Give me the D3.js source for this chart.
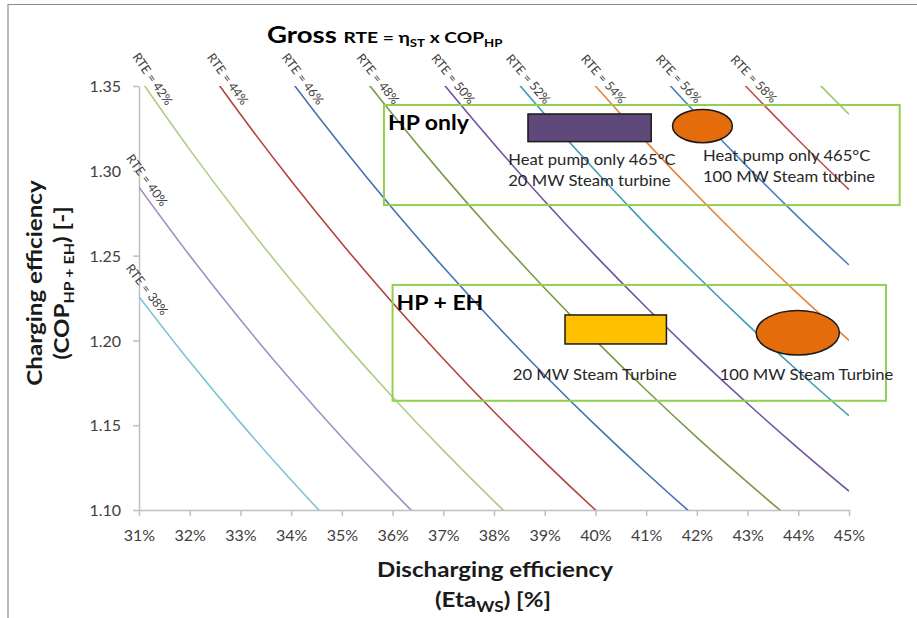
<!DOCTYPE html>
<html>
<head>
<meta charset="utf-8">
<script src="https://cdn.jsdelivr.net/npm/d3@7"></script>
<style>
  body { margin: 0; background: #fff; }
  svg { display: block; font-family: Lato, "Open Sans", sans-serif; }
</style>
</head>
<body>
<div id="chart"></div>
<script>
// discharging efficiency grid (x) and charging efficiency ticks (y)
const etaValues = [0.31, 0.32, 0.33, 0.34, 0.35, 0.36, 0.37, 0.38, 0.39, 0.40, 0.41, 0.42, 0.43, 0.44, 0.45];
const copTicks = [1.10, 1.15, 1.20, 1.25, 1.30, 1.35];

// iso round-trip-efficiency lines, RTE = eta x COP
const rteLevels = [0.38, 0.40, 0.42, 0.44, 0.46, 0.48, 0.50, 0.52, 0.54, 0.56, 0.58, 0.60];
const rteLabels = ["RTE = 38%", "RTE = 40%", "RTE = 42%", "RTE = 44%", "RTE = 46%", "RTE = 48%",
                   "RTE = 50%", "RTE = 52%", "RTE = 54%", "RTE = 56%", "RTE = 58%", ""];
const rteColors = ["#7cc3d6", "#a28fc3", "#afcd82", "#b3423f", "#4472b0", "#7b9a45",
                   "#7054a0", "#3f9bb3", "#e2843a", "#4d7fc0", "#c0504d", "#9bc85a"];

// operating regions (green frames)
const groupNames = ["HP only", "HP + EH"];
const groupEta = [[0.3583, 0.4600], [0.3600, 0.4573]];
const groupCop = [[1.2798, 1.3388], [1.1644, 1.2327]];

// plant cases
const caseShapes = ["rect", "ellipse", "rect", "ellipse"];
const caseEta = [[0.3867, 0.4110], [0.4152, 0.4270], [0.3940, 0.4140], [0.4317, 0.4481]];
const caseCop = [[1.3172, 1.3335], [1.3166, 1.3362], [1.1979, 1.2150], [1.1914, 1.2176]];
const caseFill = ["#5f497a", "#e46c0a", "#ffc000", "#e46c0a"];
const caseText = [["Heat pump only 465°C", "20 MW Steam turbine"],
                  ["Heat pump only 465°C", "100 MW Steam turbine"],
                  ["20 MW Steam Turbine"],
                  ["100 MW Steam Turbine"]];
const caseTextEta = [0.3828, 0.4212, 0.3837, 0.4245];
const caseTextCop = [1.3034, 1.3055, 1.1767, 1.1767];

const W = 917, H = 618;
const margin = {top: 86, right: 68, bottom: 108, left: 139};
const stretch = 1.15; // the source picture is slightly wider than tall

const svg = d3.select("#chart").append("svg")
    .attr("width", W)
    .attr("height", H);

// partial chart frame (top and left edges)
svg.append("path")
    .attr("d", `M8,${H} L8,4.5 L${W},4.5`)
    .attr("fill", "none")
    .attr("stroke", "#8c8c8c")
    .attr("stroke-width", 1.2);

const x = d3.scaleLinear().domain([0.31, 0.45]).range([margin.left, W - margin.right]);
const y = d3.scaleLinear().domain([1.10, 1.35]).range([H - margin.bottom, margin.top]);

svg.append("defs").append("clipPath").attr("id", "plot")
  .append("rect")
    .attr("x", x(0.31)).attr("y", y(1.35))
    .attr("width", x(0.45) - x(0.31))
    .attr("height", y(1.10) - y(1.35));

// axes
const xAxis = svg.append("g")
    .attr("transform", `translate(0,${y(1.10)})`)
    .call(d3.axisBottom(x).tickValues(etaValues).tickFormat(d3.format(".0%"))
        .tickSize(6).tickSizeOuter(0).tickPadding(8));
const yAxis = svg.append("g")
    .attr("transform", `translate(${x(0.31)},0)`)
    .call(d3.axisLeft(y).tickValues(copTicks).tickFormat(d3.format(".2f"))
        .tickSize(6).tickSizeOuter(0).tickPadding(12));

[xAxis, yAxis].forEach(g => {
  g.select(".domain").attr("stroke", "#bfbfbf").attr("stroke-width", 1.5);
  g.selectAll(".tick line").attr("stroke", "#bfbfbf").attr("stroke-width", 1.5);
  g.selectAll(".tick text")
      .attr("fill", "#404040")
      .style("font-size", "16px")
      .style("font-family", "Lato, sans-serif");
});
xAxis.selectAll(".tick text").attr("dy", "1.05em");
yAxis.selectAll(".tick text").attr("dy", "0.35em");

// iso-RTE lines
const line = d3.line()
    .x(d => x(d[0]))
    .y(d => y(d[1]))
    .curve(d3.curveMonotoneX);

const lines = svg.append("g").attr("clip-path", "url(#plot)");
rteLevels.forEach((rte, i) => {
  lines.append("path")
      .attr("d", line(etaValues.map(e => [e, rte / e])))
      .attr("fill", "none")
      .attr("stroke", rteColors[i])
      .attr("stroke-width", 1.6);
});

// line labels at the point where each line enters the plot
rteLevels.forEach((rte, i) => {
  if (!rteLabels[i]) return;
  const e0 = Math.max(0.31, rte / 1.35);
  const px = x(e0), py = y(rte / e0);
  const ang = Math.atan2(y(rte / (e0 + 0.001)) - py, x(e0 + 0.001) - px) * 180 / Math.PI;
  svg.append("text")
      .attr("transform", `translate(${px + 8},${py - 7}) rotate(${ang})`)
      .attr("text-anchor", "middle")
      .attr("dy", "0.35em")
      .attr("fill", "#404040")
      .style("font-size", "12.5px")
      .text(rteLabels[i]);
});

// region frames and names
groupNames.forEach((name, i) => {
  const x0 = x(groupEta[i][0]), x1 = x(groupEta[i][1]);
  const y0 = y(groupCop[i][1]), y1 = y(groupCop[i][0]);
  svg.append("rect")
      .attr("x", x0).attr("y", y0)
      .attr("width", x1 - x0).attr("height", y1 - y0)
      .attr("fill", "none")
      .attr("stroke", "#92d050")
      .attr("stroke-width", 2);
  svg.append("text")
      .attr("transform", `translate(${x0 + 4},${y0 + 25}) scale(${stretch},1)`)
      .attr("fill", "#000")
      .style("font-size", "20px")
      .style("font-weight", "bold")
      .text(name);
});

// plant case markers
caseShapes.forEach((shape, i) => {
  const x0 = x(caseEta[i][0]), x1 = x(caseEta[i][1]);
  const y0 = y(caseCop[i][1]), y1 = y(caseCop[i][0]);
  if (shape === "rect") {
    svg.append("rect")
        .attr("x", x0).attr("y", y0)
        .attr("width", x1 - x0).attr("height", y1 - y0)
        .attr("fill", caseFill[i])
        .attr("stroke", "#1a1a1a")
        .attr("stroke-width", 1.5);
  } else {
    svg.append("ellipse")
        .attr("cx", (x0 + x1) / 2).attr("cy", (y0 + y1) / 2)
        .attr("rx", (x1 - x0) / 2).attr("ry", (y1 - y0) / 2)
        .attr("fill", caseFill[i])
        .attr("stroke", "#1a1a1a")
        .attr("stroke-width", 1.5);
  }
  const t = svg.append("text")
      .attr("transform", `translate(${x(caseTextEta[i])},${y(caseTextCop[i])}) scale(1.04,1)`)
      .attr("fill", "#262626")
      .style("font-size", "16px");
  caseText[i].forEach((s, k) => {
    t.append("tspan")
        .attr("x", 0)
        .attr("dy", k === 0 ? 0 : 21)
        .text(s);
  });
});

// chart title
const title = svg.append("text")
    .attr("transform", `translate(267,43) scale(1.2,1)`)
    .attr("fill", "#000")
    .style("font-weight", "bold");
title.append("tspan").style("font-size", "23px").text("Gross ");
title.append("tspan").style("font-size", "16px").text("RTE = η");
title.append("tspan").style("font-size", "11px").attr("dy", 4).text("ST");
title.append("tspan").style("font-size", "16px").attr("dy", -4).text(" x COP");
title.append("tspan").style("font-size", "11px").attr("dy", 4).text("HP");

// x axis title
svg.append("text")
    .attr("transform", `translate(495,577) scale(${stretch},1)`)
    .attr("text-anchor", "middle")
    .style("font-size", "21px").style("font-weight", "bold")
    .attr("fill", "#1a1a1a")
    .text("Discharging efficiency");
const xt2 = svg.append("text")
    .attr("transform", `translate(493,607) scale(${stretch},1)`)
    .attr("text-anchor", "middle")
    .style("font-size", "21px").style("font-weight", "bold")
    .attr("fill", "#1a1a1a");
xt2.append("tspan").text("(Eta");
xt2.append("tspan").style("font-size", "15px").attr("dy", 5).text("WS");
xt2.append("tspan").attr("dy", -5).text(") [%]");

// y axis title
const yt = svg.append("g").attr("transform", "translate(0,283) rotate(-90)");
yt.append("text")
    .attr("transform", `translate(0,42) scale(${stretch},1)`)
    .attr("text-anchor", "middle")
    .style("font-size", "21px").style("font-weight", "bold")
    .attr("fill", "#1a1a1a")
    .text("Charging efficiency");
const yt2 = yt.append("text")
    .attr("transform", `translate(0,69) scale(${stretch},1)`)
    .attr("text-anchor", "middle")
    .style("font-size", "21px").style("font-weight", "bold")
    .attr("fill", "#1a1a1a");
yt2.append("tspan").text("(COP");
yt2.append("tspan").style("font-size", "14px").attr("dy", 5).text("HP + EH");
yt2.append("tspan").attr("dy", -5).text(") [-]");
</script>
</body>
</html>
